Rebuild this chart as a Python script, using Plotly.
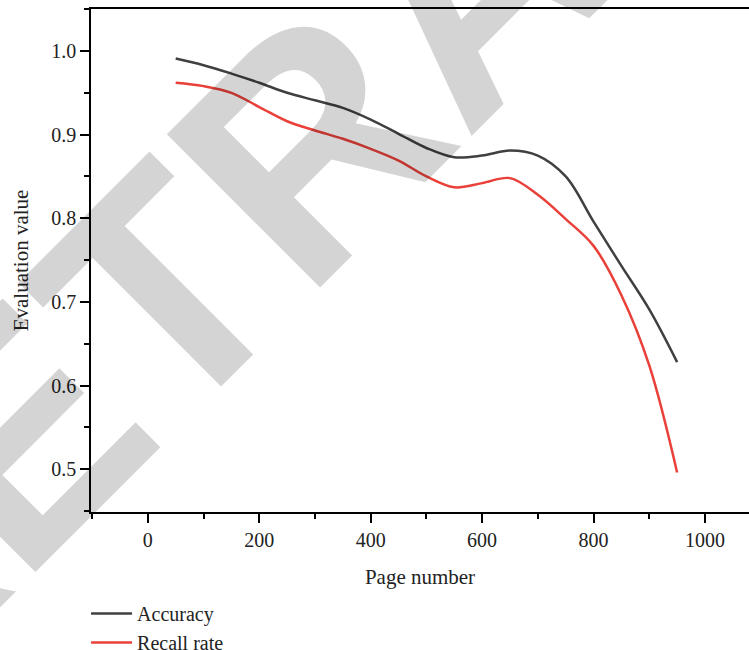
import plotly.graph_objects as go

page_number = [50, 100, 150, 200, 250, 300, 350, 400, 450, 500,
               550, 600, 650, 700, 750, 800, 850, 900, 950]
accuracy = [0.991, 0.983, 0.973, 0.962, 0.950, 0.941, 0.932, 0.918, 0.901, 0.884,
            0.873, 0.875, 0.881, 0.875, 0.850, 0.796, 0.743, 0.691, 0.628]
recall_rate = [0.962, 0.958, 0.950, 0.933, 0.916, 0.905, 0.895, 0.883, 0.869, 0.850,
               0.837, 0.842, 0.848, 0.828, 0.799, 0.767, 0.708, 0.624, 0.496]

x_ticks = [0, 200, 400, 600, 800, 1000]
y_ticks = [0.5, 0.6, 0.7, 0.8, 0.9, 1.0]
y_tick_labels = ["0.5", "0.6", "0.7", "0.8", "0.9", "1.0"]

FONT = "Liberation Serif"

fig = go.Figure()
fig.add_trace(go.Scatter(x=page_number, y=accuracy, mode="lines", name="Accuracy",
                         line=dict(color="#404040", width=2.5, shape="spline", smoothing=1.0)))
fig.add_trace(go.Scatter(x=page_number, y=recall_rate, mode="lines", name="Recall rate",
                         line=dict(color="#e9403a", width=2.5, shape="spline", smoothing=1.0)))

fig.add_annotation(text="<b>RETRACTED</b>", xref="paper", yref="paper",
                   x=0.575, y=1.05, xanchor="center", yanchor="middle",
                   textangle=-45, showarrow=False,
                   font=dict(family="Liberation Sans", size=315, color="rgba(0,0,0,0.17)"))

axis_common = dict(showline=True, linecolor="black", linewidth=1.5, ticks="outside",
                   ticklen=9, tickwidth=1.5, tickcolor="black", showgrid=False,
                   zeroline=False, automargin=False,
                   tickfont=dict(family=FONT, size=20, color="#222"))

fig.update_xaxes(range=[-102, 1079], tickvals=x_ticks, mirror=True,
                 minor=dict(dtick=100, tick0=0, ticklen=5, tickwidth=1.5, tickcolor="black", ticks="outside"),
                 title=dict(text="Page number", font=dict(family=FONT, size=21, color="#222"), standoff=20),
                 **axis_common)
fig.update_yaxes(range=[0.4488, 1.0502], tickvals=y_ticks, ticktext=y_tick_labels,
                 minor=dict(dtick=0.05, tick0=0, ticklen=5, tickwidth=1.5, tickcolor="black", ticks="outside"),
                 title=dict(text="Evaluation value", font=dict(family=FONT, size=21, color="#222"), standoff=17),
                 **axis_common)

fig.update_layout(width=749, height=650,
                  margin=dict(l=91, r=0, t=9, b=138, autoexpand=False),
                  paper_bgcolor="white", plot_bgcolor="rgba(0,0,0,0)",
                  showlegend=True,
                  legend=dict(x=-0.0075, y=-0.163, xanchor="left", yanchor="top", orientation="v",
                              font=dict(family=FONT, size=20, color="#222"),
                              bgcolor="rgba(0,0,0,0)", itemwidth=41, tracegroupgap=0))

fig.write_html("out.html", config={"displayModeBar": False},
               post_script="document.body.style.margin='0';document.body.style.overflow='hidden';")
